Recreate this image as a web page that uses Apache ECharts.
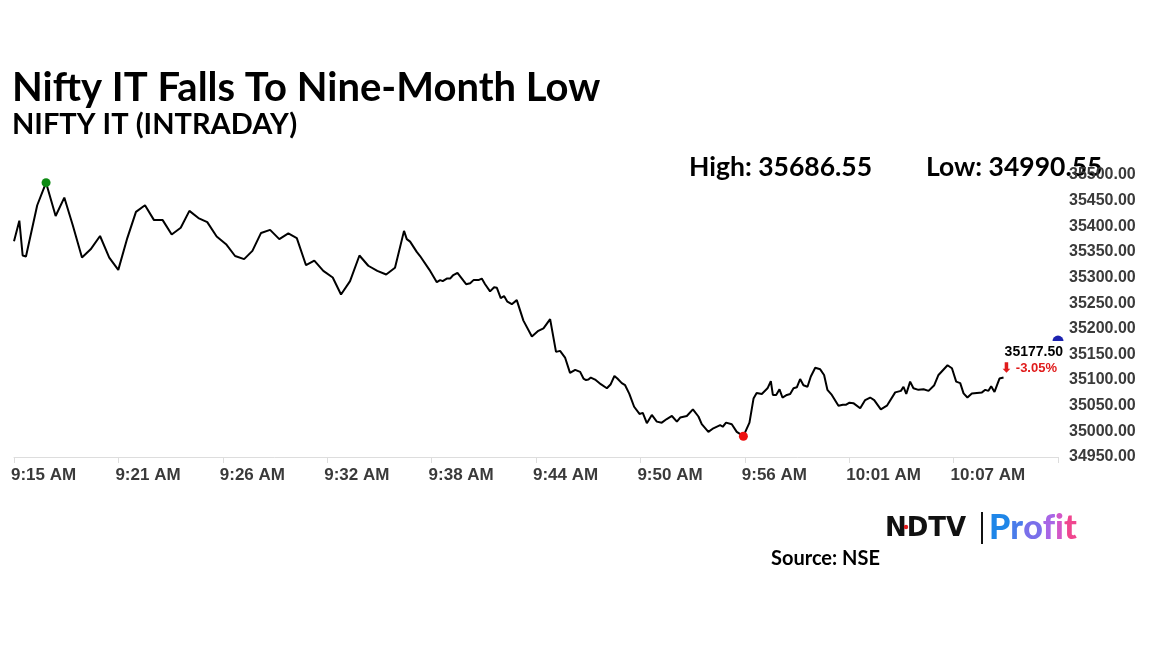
<!DOCTYPE html>
<html>
<head>
<meta charset="utf-8">
<script src="https://cdn.jsdelivr.net/npm/echarts@6/dist/echarts.min.js"></script>
<style>
  html, body { margin: 0; padding: 0; background: #ffffff; }
  #chart { width: 1152px; height: 648px; }
</style>
</head>
<body>
<div id="chart"></div>
<script>
// Minutes elapsed since 9:15 AM for each reading
const elapsedMin = [
  0,0.29,0.47,0.65,1.26,1.74,2.26,2.73,3.19,3.69,
  4.16,4.67,5.17,5.66,6.15,6.62,7.11,7.60,8.07,8.56,
  9.05,9.52,10.01,10.49,11.00,11.51,12.00,12.49,12.94,13.41,
  13.90,14.40,14.89,15.35,15.85,16.30,16.79,17.30,17.75,18.24,
  18.75,19.23,19.72,20.20,20.68,21.17,21.32,21.50,21.86,22.04,
  22.55,22.95,23.13,23.27,23.49,23.67,23.82,24.07,24.54,24.76,
  24.94,25.21,25.39,25.57,25.84,26.06,26.21,26.42,26.60,26.78,
  27.02,27.29,27.65,28.11,28.46,28.74,29.10,29.42,29.64,29.91,
  30.18,30.46,30.73,30.91,31.05,31.18,31.31,31.54,31.85,32.18,
  32.39,32.59,32.75,32.99,33.17,33.40,33.66,33.95,34.13,34.35,
  34.62,34.89,35.16,35.43,35.71,35.98,36.16,36.52,36.85,37.15,
  37.33,37.69,37.96,38.33,38.47,38.65,38.96,39.23,39.59,39.92,
  40.14,40.31,40.59,40.90,41.08,41.19,41.37,41.55,41.71,41.95,
  42.13,42.31,42.49,42.67,42.85,43.07,43.25,43.49,43.76,43.97,
  44.15,44.39,44.75,44.99,45.17,45.35,45.56,45.93,46.20,46.47,
  46.69,47.05,47.38,47.83,48.14,48.28,48.43,48.64,48.82,49.09,
  49.37,49.64,49.95,50.18,50.67,50.91,51.14,51.36,51.54,51.75,
  51.99,52.54,52.72,52.89,53.04,53.22,53.49,53.71
];

// NIFTY IT index level
const niftyIT = [
  35371,35411,35343,35341,35441,35485,35420,35456,35402,35339,
  35355,35381,35339,35315,35377,35428,35441,35412,35412,35384,
  35397,35430,35416,35408,35380,35365,35342,35336,35352,35387,
  35393,35375,35386,35377,35324,35333,35313,35300,35267,35293,
  35343,35323,35313,35306,35319,35391,35375,35370,35350,35342,
  35315,35291,35295,35293,35298,35298,35304,35309,35287,35289,
  35295,35295,35298,35287,35273,35281,35280,35260,35264,35253,
  35248,35256,35216,35185,35196,35201,35219,35155,35157,35144,
  35114,35120,35116,35103,35100,35101,35105,35101,35092,35084,
  35092,35108,35103,35094,35090,35073,35048,35034,35036,35016,
  35032,35019,35017,35024,35030,35019,35027,35030,35043,35029,
  35014,34999,35006,35012,35009,35017,35014,34999,34990.55,35017,
  35064,35075,35073,35084,35098,35071,35071,35082,35066,35071,
  35073,35084,35086,35102,35090,35087,35107,35124,35121,35110,
  35081,35071,35050,35052,35052,35056,35055,35045,35061,35066,
  35061,35043,35050,35076,35079,35087,35073,35097,35084,35081,
  35082,35079,35090,35110,35129,35123,35097,35094,35074,35066,
  35074,35076,35081,35079,35088,35077,35103,35105
];

// X-axis tick labels (ticks every 340 seconds from 9:15 AM)
const timeTickLabels = ['9:15 AM','9:21 AM','9:26 AM','9:32 AM','9:38 AM','9:44 AM','9:50 AM','9:56 AM','10:01 AM','10:07 AM'];
const tickStepSec = 340;
const axisEndSec = 3400;

// Annotation values
const lastPrice = 35177.50;
const changePct = -3.05;
const dayHigh = 35686.55;
const dayLow = 34990.55;

const seriesData = elapsedMin.map((m, i) => [m * 60, niftyIT[i]]);

// letter colours of the "Profit" wordmark (blue -> pink)
const profitColors = ['#1f86e8', '#4a7cea', '#7a70ea', '#a866e6', '#d257c8', '#f0468f'];
const profitWord = 'Profit';
const profitRich = {};
profitColors.forEach((c, i) => { profitRich['p' + i] = { fill: c, font: '900 34px Lato, sans-serif' }; });
const profitText = profitWord.split('').map((ch, i) => '{p' + i + '|' + ch + '}').join('');

const chart = echarts.init(document.getElementById('chart'));
const axisFont = { color: '#3a3a3a', fontSize: 16, fontWeight: 'bold', fontFamily: 'Liberation Sans, Arial, sans-serif' };

chart.setOption({
  backgroundColor: '#ffffff',
  animation: false,
  grid: { left: 14, right: 94, top: 175, bottom: 191, containLabel: false },
  xAxis: {
    type: 'value',
    min: 0,
    max: axisEndSec,
    interval: tickStepSec,
    axisLine: { show: true, lineStyle: { color: '#dddddd', width: 1 } },
    axisTick: { show: true, length: 6, lineStyle: { color: '#dddddd' } },
    splitLine: { show: false },
    axisLabel: Object.assign({}, axisFont, {
      fontSize: 17,
      margin: 10,
      align: 'left',
      padding: [0, 0, 0, -3],
      formatter: v => timeTickLabels[Math.round(v / tickStepSec)] || ''
    })
  },
  yAxis: {
    type: 'value',
    position: 'right',
    min: 34950,
    max: 35500,
    interval: 50,
    axisLine: { show: false },
    axisTick: { show: false },
    splitLine: { show: false },
    axisLabel: Object.assign({}, axisFont, {
      margin: 11,
      formatter: v => v.toFixed(2)
    })
  },
  series: [{
    type: 'line',
    data: seriesData,
    showSymbol: false,
    lineStyle: { color: '#000000', width: 2 },
    itemStyle: { color: '#000000' },
    markPoint: {
      silent: true,
      label: { show: false },
      data: [
        { type: 'max', valueDim: 'y', symbol: 'circle', symbolSize: 9, itemStyle: { color: '#0d8a12' } },
        { type: 'min', valueDim: 'y', symbol: 'circle', symbolSize: 9, itemStyle: { color: '#ee1111' } },
        { coord: [axisEndSec, lastPrice], symbol: 'path://M0,10 A10,10 0 0 1 20,10 Z', symbolSize: [11, 5.5], symbolOffset: [0, -2], itemStyle: { color: '#1c22b0' } }
      ]
    }
  }],
  graphic: [
    { type: 'text', x: 12, y: 88, style: { text: 'Nifty IT Falls To Nine-Month Low', font: 'bold 40px Lato, sans-serif', fill: '#000', verticalAlign: 'middle' } },
    { type: 'text', x: 12, y: 125, style: { text: 'NIFTY IT (INTRADAY)', font: 'bold 29px Lato, sans-serif', fill: '#000', verticalAlign: 'middle' } },
    { type: 'text', x: 689, y: 167, style: { text: 'High: ' + dayHigh.toFixed(2), font: 'bold 26.5px Lato, sans-serif', fill: '#000', verticalAlign: 'middle' } },
    { type: 'text', x: 926, y: 167, style: { text: 'Low: ' + dayLow.toFixed(2), font: 'bold 26.5px Lato, sans-serif', fill: '#000', verticalAlign: 'middle' } },
    { type: 'text', x: 1063, y: 352, style: { text: lastPrice.toFixed(2), font: 'bold 14px Liberation Sans, Arial, sans-serif', fill: '#000', align: 'right', verticalAlign: 'middle' } },
    { type: 'text', x: 1057, y: 368, style: { text: '⬇ ' + changePct.toFixed(2) + '%', font: 'bold 13px Liberation Sans, Arial, sans-serif', fill: '#e01b1b', align: 'right', verticalAlign: 'middle' } },
    { type: 'text', x: 885, y: 529, style: { text: 'NDTV', font: 'bold 26px DejaVu Sans, sans-serif', fill: '#111', verticalAlign: 'middle' } },
    { type: 'circle', shape: { cx: 906, cy: 527, r: 2.2 }, style: { fill: '#e01b1b' } },
    { type: 'rect', shape: { x: 981, y: 512, width: 2, height: 32 }, style: { fill: '#111' } },
    { type: 'text', x: 989, y: 528, style: { text: profitText, rich: profitRich, verticalAlign: 'middle' } },
    { type: 'text', x: 771, y: 559, style: { text: 'Source: NSE', font: 'bold 20px Lato, sans-serif', fill: '#000', verticalAlign: 'middle' } }
  ]
});
</script>
</body>
</html>
